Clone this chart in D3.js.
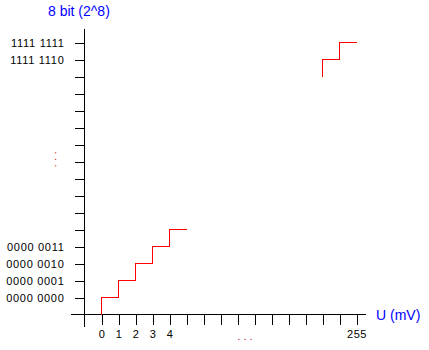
<!DOCTYPE html>
<html>
<head>
<meta charset="utf-8">
<script src="https://cdn.jsdelivr.net/npm/d3@7"></script>
<style>
  html, body { margin: 0; padding: 0; background: #fff; }
  svg { display: block; }
  text { font-family: "Liberation Sans", Arial, sans-serif; }
</style>
</head>
<body>
<script>
// Slot positions along each axis: -1 is the origin, 0..15 are the tick slots.
const xTickSlots = d3.range(0, 16);
const yTickSlots = d3.range(0, 16);

// Labelled ticks on the input-voltage axis (slot -> label)
const xLabelSlots = [0, 1, 2, 3, 4, 15];
const xLabels = ["0", "1", "2", "3", "4", "255"];

// Labelled ticks on the output-code axis (slot -> label)
const yLabelSlots = [0, 1, 2, 3, 14, 15];
const yLabels = ["0000 0000", "0000 0001", "0000 0010", "0000 0011", "1111 1110", "1111 1111"];

// Staircase near zero: voltage slot and code level at each corner
const lowU = [0, 1, 2, 3, 4, 5];
const lowCode = [-1, 0, 1, 2, 3, 4];

// Staircase near full scale
const highU = [13, 14, 15];
const highCode = [13, 14, 15];

const W = 429, H = 350;
const svg = d3.select("body").append("svg").attr("width", W).attr("height", H);

const x = d3.scaleLinear().domain([-1, 15]).range([84.5, 356.5]);
const y = d3.scaleLinear().domain([-1, 15]).range([314.5, 42.5]);

const g = svg.append("g").attr("shape-rendering", "crispEdges");

// Axis lines
g.append("line").attr("x1", x(-1)).attr("x2", x(-1)).attr("y1", 29).attr("y2", 327)
  .attr("stroke", "#000").attr("stroke-width", 1);
g.append("line").attr("x1", 71).attr("x2", 366).attr("y1", y(-1)).attr("y2", y(-1))
  .attr("stroke", "#000").attr("stroke-width", 1);

// Y axis: ticks on the left, custom labels
const yAxis = d3.axisLeft(y).tickValues(yTickSlots).tickSize(10).tickSizeOuter(0)
  .tickFormat(d => { const i = yLabelSlots.indexOf(d); return i >= 0 ? yLabels[i] : ""; });
const yg = svg.append("g").attr("transform", `translate(${x(-1)},0)`).call(yAxis);
yg.select(".domain").remove();
yg.selectAll(".tick line").attr("stroke", "#000").attr("shape-rendering", "crispEdges");
yg.selectAll(".tick text")
  .attr("x", -20).attr("dy", "4.2px")
  .attr("fill", "#000")
  .style("font-family", "'Liberation Sans', Arial, sans-serif")
  .style("font-size", "11px")
  .style("letter-spacing", "0.7px");

// X axis: ticks below, custom labels
const xAxis = d3.axisBottom(x).tickValues(xTickSlots).tickSize(10).tickSizeOuter(0)
  .tickFormat(d => { const i = xLabelSlots.indexOf(d); return i >= 0 ? xLabels[i] : ""; });
const xg = svg.append("g").attr("transform", `translate(0,${y(-1)})`).call(xAxis);
xg.select(".domain").remove();
xg.selectAll(".tick line").attr("stroke", "#000").attr("shape-rendering", "crispEdges");
xg.selectAll(".tick text")
  .attr("y", 23.5).attr("dy", 0)
  .attr("fill", "#000")
  .style("font-family", "'Liberation Sans', Arial, sans-serif")
  .style("font-size", "11px")
  .style("letter-spacing", "0.5px");

// Staircase transfer curves
const step = d3.line().x(d => x(d[0])).y(d => y(d[1])).curve(d3.curveStepBefore);
svg.append("path")
  .attr("d", step(d3.zip(lowU, lowCode)))
  .attr("fill", "none").attr("stroke", "#ff0000").attr("stroke-width", 1)
  .attr("shape-rendering", "crispEdges");
svg.append("path")
  .attr("d", step(d3.zip(highU, highCode)))
  .attr("fill", "none").attr("stroke", "#ff0000").attr("stroke-width", 1)
  .attr("shape-rendering", "crispEdges");

// Axis titles
svg.append("text").attr("x", 48).attr("y", 16)
  .attr("fill", "#0000ff").style("font-size", "14px").text("8 bit (2^8)");
svg.append("text").attr("x", 376).attr("y", 320)
  .attr("fill", "#0000ff").style("font-size", "14px").text("U (mV)");

// Ellipses marking the omitted range on each axis
svg.append("text").attr("x", 237.5).attr("y", 340)
  .attr("fill", "#cc0000").style("font-size", "10px").style("letter-spacing", "3.4px")
  .text("...");
svg.append("text")
  .attr("transform", "translate(54.5,151.5) rotate(90)")
  .attr("fill", "#cc0000").style("font-size", "10px").style("letter-spacing", "3.7px")
  .text("...");
</script>
</body>
</html>
